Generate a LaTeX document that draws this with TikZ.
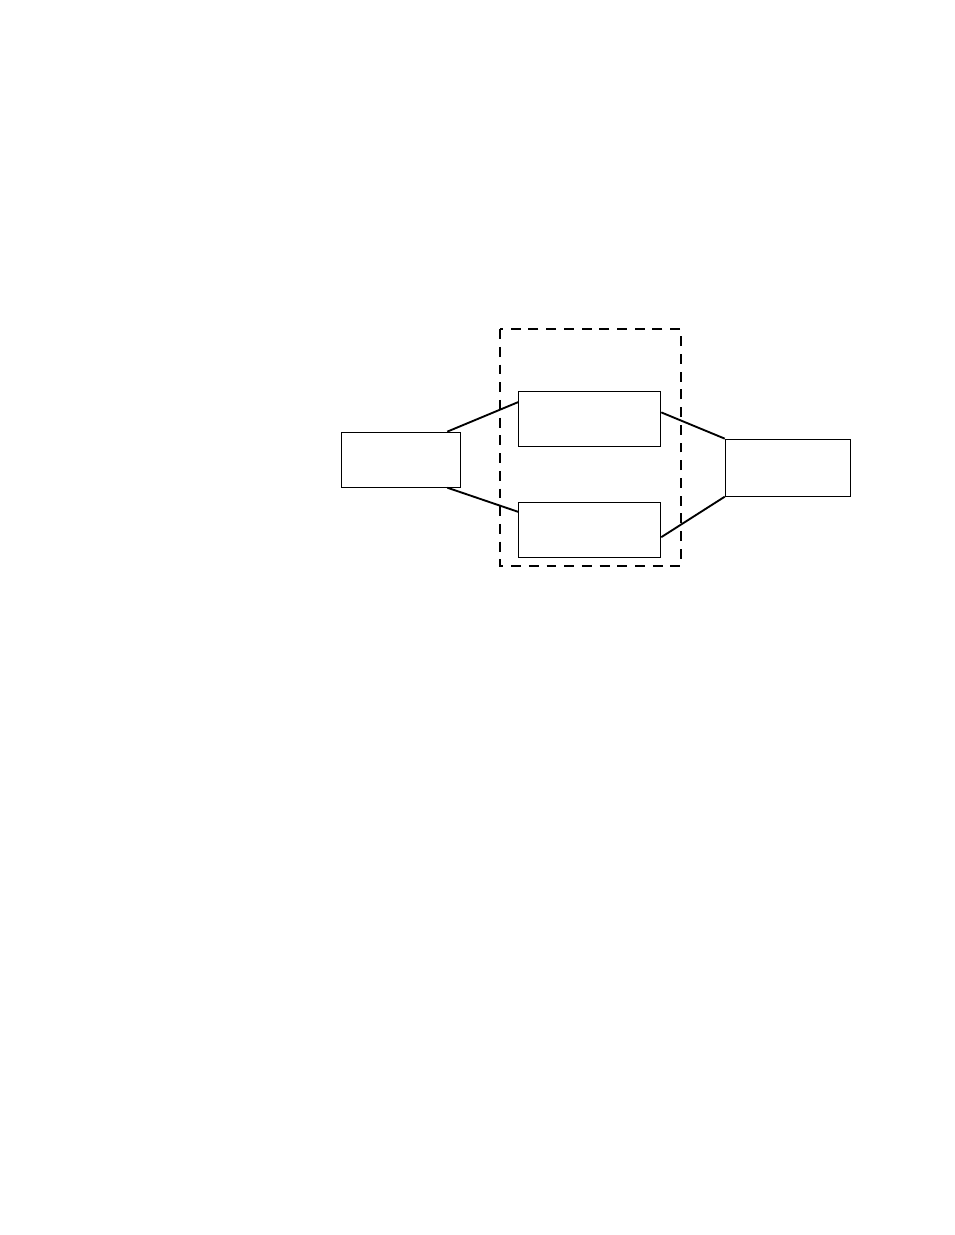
\documentclass[tikz,border=0pt]{standalone}
\begin{document}
\begin{tikzpicture}
            \useasboundingbox (0, 0) rectangle (21.59, -27.94);

            \draw[line width = 0.65pt]
                (9.064, -10.399) node (lbox) [draw, rectangle, minimum width = 2.693cm, minimum height = 1.245cm] {}
                (13.341, -9.471) node (tmid) [draw, rectangle, minimum width = 3.214cm, minimum height = 1.245cm] {}
                (13.341, -11.983) node (bmid) [draw, rectangle, minimum width = 3.214cm, minimum height = 1.245cm] {}
                (17.829, -10.580) node (rbox) [draw, rectangle, minimum width = 2.842cm, minimum height = 1.290cm] {}
            ;

            \draw[line width = 1.2pt]
                (lbox.31)  -- (tmid.167)
                (lbox.-31) -- (bmid.166)
                (tmid.5)   -- (rbox.north west)
                (bmid.-6)  -- (rbox.south west)
            ;

            \draw[line width = 1.2pt, dash pattern = on 6.4pt off 5pt]
                (11.316, -7.446) rectangle (15.400, -12.809);
        \end{tikzpicture}
\end{document}
